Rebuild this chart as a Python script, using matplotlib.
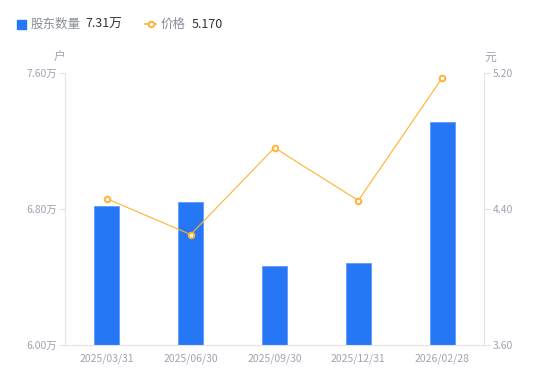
import matplotlib
matplotlib.use("Agg")
import matplotlib.pyplot as plt
from matplotlib.lines import Line2D
from matplotlib.patches import Rectangle

plt.rcParams['font.family'] = ['Noto Sans CJK SC', 'DejaVu Sans']

categories = ["2025/03/31", "2025/06/30", "2025/09/30", "2025/12/31", "2026/02/28"]
holders = [6.82, 6.84, 6.465, 6.48, 7.31]   # 万户
prices = [4.46, 4.25, 4.76, 4.45, 5.17]     # 元
left_ticks = [6.00, 6.80, 7.60]
left_labels = ["6.00万", "6.80万", "7.60万"]
right_ticks = [3.60, 4.40, 5.20]
right_labels = ["3.60", "4.40", "5.20"]

bar_color = "#2577F6"
line_color = "#FFB232"
tick_color = "#A0A3B1"
axis_color = "#E3E4E8"

fig = plt.figure(figsize=(5.5, 3.81), dpi=100)
ax = fig.add_axes([65/550, 1-345/381, (484-65)/550, (345-73)/381])
x = list(range(len(categories)))
ax.bar(x, [h - left_ticks[0] for h in holders], bottom=left_ticks[0], width=0.3,
       color=bar_color, edgecolor="#5E9BF8", linewidth=0.6, zorder=2)
ax.set_xlim(-0.5, len(categories) - 0.5)
ax.set_ylim(left_ticks[0], left_ticks[-1])
ax.set_yticks(left_ticks)
ax.set_yticklabels(left_labels)
ax.set_xticks(x)
ax.set_xticklabels(categories)

ax2 = ax.twinx()
ax2.plot(x, prices, color=line_color, linewidth=0.8, marker='o', markersize=4,
         markerfacecolor='white', markeredgecolor=line_color, markeredgewidth=1.4, zorder=3)
ax2.set_ylim(right_ticks[0], right_ticks[-1])
ax2.set_yticks(right_ticks)
ax2.set_yticklabels(right_labels)

for a in (ax, ax2):
    for s in a.spines.values():
        s.set_visible(False)
    a.tick_params(colors=tick_color, labelsize=7.5, length=4, width=0.8, color=axis_color, pad=2)
    a.set_facecolor('none')
ax.spines['left'].set_visible(True)
ax.spines['left'].set_color(axis_color)
ax.spines['bottom'].set_visible(True)
ax.spines['bottom'].set_color(axis_color)
ax2.spines['right'].set_visible(True)
ax2.spines['right'].set_color(axis_color)
ax.tick_params(axis='x', length=0, pad=6, labelcolor=tick_color)

fig.text(59/550, 1-57/381, "户", color=tick_color, fontsize=8.5, ha='center', va='center')
fig.text(490/550, 1-57/381, "元", color=tick_color, fontsize=8.5, ha='center', va='center')

# legend
fig.patches.append(Rectangle((17/550, 1-29/381), 9/550, 9/381, transform=fig.transFigure,
                             color=bar_color, figure=fig))
fig.text(31/550, 1-24/381, "股东数量", color="#8A8D99", fontsize=9, va='center')
fig.text(85/550, 1-24/381, "7.31万", color="#333333", fontsize=9, va='center')
fig.lines.append(Line2D([145/550, 150.5/550, 156/550], [1-24/381] * 3, transform=fig.transFigure,
                        color=line_color, linewidth=1.2, marker='o', markersize=4,
                        markevery=[1], markerfacecolor='white', markeredgecolor=line_color,
                        markeredgewidth=1.4, figure=fig))
fig.text(161/550, 1-24/381, "价格", color="#8A8D99", fontsize=9, va='center')
fig.text(192/550, 1-24/381, "5.170", color="#333333", fontsize=9, va='center')

fig.savefig("out.png", dpi=100)
